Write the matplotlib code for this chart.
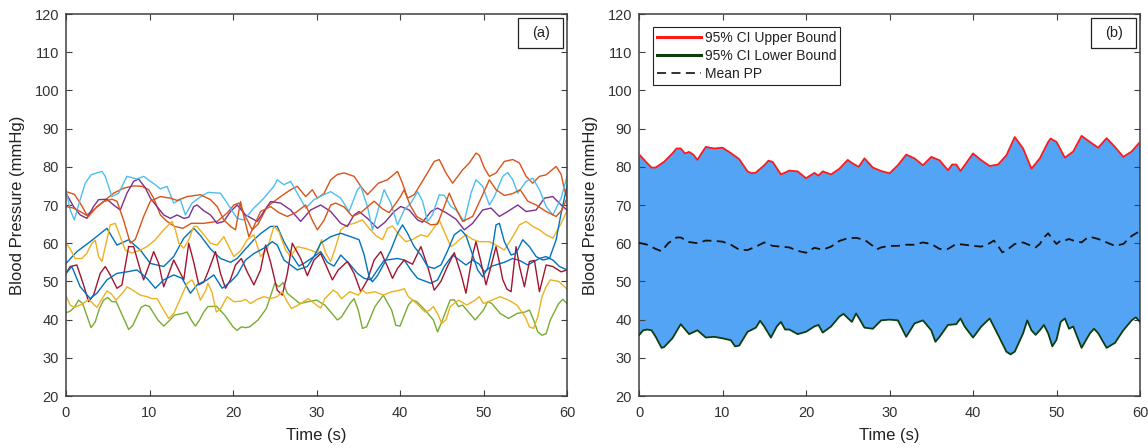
import numpy as np
import matplotlib
matplotlib.use("Agg")
import matplotlib.pyplot as plt
from matplotlib.patches import Rectangle
from matplotlib.lines import Line2D

plt.rcParams['font.family'] = ['Liberation Sans', 'DejaVu Sans']

# ---- Panel (a): individual pulse-pressure recordings, (time s, mmHg) ----
light_blue = [(0, 74.0), (0.5, 68.7), (1, 66.1), (1.5, 70), (2.3, 75.7), (3, 77.9), (3.7, 78.4), (4.3, 78.8),
              (4.7, 77.5), (5.5, 72.2), (6.3, 73.1), (7.3, 77.5), (8.5, 76.8), (9.3, 77.5), (10.1, 76.2),
              (10.7, 75.3), (11.3, 74.2), (12.1, 74.9), (12.9, 70.5), (13.7, 71.4), (14.3, 67.4), (15.1, 70.5),
              (16, 72), (17, 73.3), (18.5, 73.1), (19.3, 70.5), (20.5, 66.5), (21.3, 66.1), (22.5, 69.2),
              (23.7, 71.8), (24.9, 74.9), (25.3, 76.6), (26.1, 75.3), (26.9, 76.2), (27.7, 73.1), (28.7, 69.2),
              (29.7, 71.4), (30.9, 72.7), (31.7, 73.5), (32.9, 71.8), (33.9, 68.3), (34.9, 74), (35.3, 74.9),
              (36.1, 69.6), (36.7, 63.5), (37.5, 69.6), (38.1, 74.0), (38.9, 70.5), (39.7, 64.8), (40.5, 68.7),
              (41.3, 70.5), (42.1, 73.5), (42.7, 71), (43.3, 65.7), (43.9, 67.5), (44.7, 72.7), (45.3, 72.5),
              (46.1, 69.6), (46.7, 68.7), (47.7, 65.7), (48.5, 73.1), (49.1, 76.6), (49.9, 74.9), (50.7, 70),
              (51.3, 72.2), (52.3, 77.5), (52.9, 78.5), (53.5, 76.6), (54.1, 73.1), (55.1, 76.2), (55.9, 77),
              (56.7, 74), (57.5, 69.6), (58.3, 67.4), (59.3, 71.8), (60, 77.5)]

orange_1 = [(0, 73.5), (1, 72.8), (1.7, 70.5), (2.5, 67.4), (3.3, 68.7), (4.5, 70.9), (5.7, 73.1), (6.9, 74.4),
            (8.1, 75.0), (9.1, 74.9), (9.9, 74), (10.5, 71.8), (11.3, 67.4), (12.1, 65.7), (13, 64.4), (14, 63.9),
            (15, 65.2), (16.5, 65.2), (18.1, 65.7), (19.3, 67.9), (20.1, 70), (20.7, 70.5), (21.5, 67),
            (22.3, 63.5), (23, 65), (24.1, 69.6), (25.7, 72.2), (26.9, 74), (27.7, 74.9), (28.7, 72.2),
            (29.5, 74), (30.1, 71.8), (30.9, 73), (31.7, 76.6), (32.5, 78), (33.3, 78.4), (34.5, 77.5),
            (35.3, 74.9), (36.1, 72.7), (37.4, 75.7), (38.5, 76.6), (39.7, 78.8), (40.3, 75.7), (40.9, 71.8),
            (41.7, 72.7), (42.9, 77), (44.1, 81.4), (44.7, 81.9), (45.5, 78.4), (46.3, 75.7), (47.5, 79.2),
            (48.3, 81), (49.1, 83.6), (49.5, 83), (50.1, 79.7), (50.7, 77.5), (51.5, 78.4), (52.5, 81.4),
            (53.5, 81.9), (54.3, 81), (55.1, 77.5), (55.9, 75.7), (56.7, 77.5), (57.5, 77.9), (58.7, 80.1),
            (59.3, 78), (59.7, 74), (60, 72)]

orange_2 = [(0, 69.6), (0.9, 69.2), (1.7, 68.3), (2.7, 67), (3.7, 69.6), (4.5, 70.9), (5.5, 71.5), (6.1, 71),
            (6.9, 66), (7.7, 60), (8.3, 61), (9.3, 67), (10.1, 71), (11.3, 72.2), (12.5, 71.8), (13.3, 71.2),
            (14.5, 72.2), (16.1, 72.7), (17.3, 71.4), (18.1, 69.6), (18.9, 66.1), (19.7, 64.4), (20.3, 63.5),
            (20.9, 70.9), (21.3, 67), (21.9, 61.7), (22.5, 64.4), (23.3, 68.3), (24.5, 69.6), (25.5, 68),
            (26.5, 67), (27.5, 68), (28.7, 70), (29.5, 66), (30.1, 63.5), (30.9, 66), (31.7, 70), (32.3, 70.5),
            (33.3, 69.5), (34.3, 67), (35.3, 68), (36.9, 71), (37.9, 69), (38.7, 68), (40, 72), (40.5, 74),
            (41.2, 70), (42, 67), (43.7, 64.8), (44.5, 65), (45.9, 73.1), (46.5, 70), (47.5, 65.7), (48.7, 67),
            (49.9, 72.7), (50.7, 76.6), (51.5, 74), (52.5, 72.5), (53.5, 73), (54.4, 74), (55.3, 71),
            (56.3, 70), (57.5, 68.3), (58.7, 67), (59.4, 68.7), (60, 71.8)]

purple = [(0, 73.1), (0.9, 69.6), (1.7, 67.4), (2.5, 66.5), (3.3, 69.6), (3.9, 71.4), (4.9, 71.5), (5.7, 70),
          (6.5, 68.7), (7.3, 73.1), (8.1, 76.2), (8.7, 76.8), (9.5, 74.5), (10.1, 71.8), (10.9, 69.6),
          (11.7, 67.4), (12.5, 66.5), (13.3, 67.4), (14.1, 66.5), (14.7, 66.8), (15.3, 69.6), (15.7, 70),
          (16.5, 68.5), (17.3, 67.4), (18.1, 65.2), (18.9, 65.7), (19.7, 68.3), (20.5, 70), (21.5, 67.4),
          (22.9, 65.7), (24.5, 70.9), (25.7, 70.5), (26.9, 68.7), (28.1, 65.7), (29.3, 68.7), (30.5, 70),
          (31.7, 68.3), (32.9, 65.2), (33.7, 64.4), (34.5, 67.4), (35.1, 68.3), (36.1, 66.5), (37.3, 63.9),
          (38.2, 65.5), (39.3, 68.3), (40.1, 69.6), (41.1, 68.7), (42.1, 66.1), (42.7, 65.5), (43.7, 68.3),
          (44.5, 69.2), (45.5, 68), (46.7, 66.3), (47.7, 63.5), (48.7, 65.2), (49.9, 68.7), (50.9, 69.2),
          (51.9, 67), (52.9, 68.3), (54.1, 70), (55.1, 68.3), (56.3, 68.7), (57.3, 71.8), (58.3, 72.2),
          (59.3, 70), (60, 68.7)]

yellow_upper = [(0, 60), (0.5, 58.5), (1.1, 56), (1.9, 56), (2.5, 57.4), (3.1, 60), (3.5, 60.8), (3.9, 56.5),
                (4.3, 55.2), (4.9, 60.9), (5.3, 64.8), (5.9, 65.2), (6.5, 61.7), (7.1, 58.2), (7.9, 57.4),
                (8.9, 58.2), (9.7, 59.1), (10.7, 60.9), (11.5, 63), (12.1, 64.4), (12.7, 65.7), (13.1, 63.5),
                (13.5, 60), (14.1, 58.7), (14.7, 60.9), (15.3, 64.4), (15.7, 64.4), (16.7, 61.7), (17.3, 60),
                (18.1, 59.5), (18.9, 61.7), (19.7, 58.2), (20.1, 56.5), (20.9, 58), (21.7, 60.9), (22.5, 62.2),
                (23.3, 56.5), (24.1, 58.5), (24.9, 64.4), (25.5, 63), (26.3, 58.2), (26.9, 56.5), (27.7, 59.1),
                (28.5, 58.7), (29.3, 58.2), (30.1, 57.4), (30.6, 60.9), (31.1, 57.4), (31.7, 55.2), (32.3, 59.1),
                (32.9, 63.5), (33.7, 64.8), (34.5, 65.2), (35.5, 66.1), (36.3, 63.9), (37.1, 62), (37.9, 60.9),
                (38.5, 63.9), (39.1, 64.5), (39.9, 62.2), (40.7, 60.4), (41.5, 61), (42.5, 62.2), (43.3, 61.7),
                (43.9, 63.5), (44.7, 66.1), (45.5, 62), (46.1, 59.1), (46.7, 60), (47.1, 60.9), (47.9, 62.2),
                (48.7, 61), (49.5, 60.4), (50.7, 60.4), (51.5, 59.5), (52.5, 58.2), (53.5, 61.7), (54.3, 64.8),
                (55.1, 65.7), (55.9, 64.4), (56.7, 63.5), (57.5, 62.2), (58.3, 61.3), (59.3, 65.2), (60, 68.5)]

yellow_lower = [(0, 46.2), (0.5, 43.8), (1, 43.2), (2, 44.1), (2.7, 45.3), (3.7, 43.2), (4.9, 47.5), (5.4, 46.8),
                (6, 45.1), (6.9, 47.3), (7.3, 48.6), (8, 47.7), (8.9, 46.4), (9.7, 46.0), (10.3, 45.5),
                (10.9, 45.5), (11.7, 42.5), (12.3, 40.3), (12.9, 41.6), (13.7, 45.5), (14.5, 49.5), (15.1, 50.4),
                (15.7, 47.7), (16.1, 45.1), (16.7, 47.5), (17, 49.5), (17.5, 47), (18, 42.0), (18.5, 42.8),
                (19.3, 46.0), (20.1, 44.7), (20.9, 44.8), (21.5, 45.3), (22.1, 44.2), (22.9, 45.3), (23.7, 46.0),
                (24.5, 45.5), (25.3, 46.0), (25.9, 47.3), (26.4, 45), (27, 42.9), (28, 44), (29, 45.5),
                (30, 43.8), (30.5, 43), (31, 45.5), (32, 47.7), (32.5, 47), (33, 45.5), (34, 47.3), (35, 46.4),
                (35.5, 47.7), (36, 46.9), (37, 47.3), (38, 46.4), (39, 47.3), (40, 47.7), (40.5, 48.1), (41, 46.0),
                (42, 44.2), (43, 42.0), (43.5, 42.4), (44, 43.4), (44.5, 41.6), (45, 39.0), (45.5, 39.9),
                (46, 43.4), (47, 45.1), (48, 43.8), (49, 45.1), (49.5, 46), (50, 44.2), (51, 45.1), (52, 46.0),
                (53, 45.1), (54, 43.8), (55, 40.7), (55.5, 38.1), (56, 37.7), (56.5, 40.7), (57, 46), (57.5, 48.6),
                (58, 50.4), (59, 50), (60, 48)]

green = [(0, 41.8), (0.5, 42.2), (1, 43.2), (1.5, 45.1), (2, 44.2), (2.5, 41), (3, 37.9), (3.5, 39.4), (4, 42.9),
         (4.5, 45.1), (5, 45.8), (5.5, 44.7), (6, 44.7), (7, 39.9), (7.5, 37.4), (8, 38.5), (9, 43.2), (9.5, 43.8),
         (10, 43.4), (11, 39.9), (11.7, 38.3), (12.5, 40), (13, 41.2), (14, 41.6), (14.5, 42.0), (15, 39.9),
         (15.5, 38.3), (16, 39.9), (16.5, 42), (17, 43.4), (18, 43.5), (19, 41.2), (20, 38.1), (20.5, 37.2),
         (21, 38.1), (21.5, 37.9), (22, 38.1), (23, 39.9), (24, 42.9), (25, 49.5), (25.5, 48.6), (26, 49.7),
         (26.5, 46.9), (27, 46), (28, 44.2), (29, 44.7), (30, 45.1), (31, 43.8), (32, 41.2), (32.5, 39.9),
         (33, 40.7), (34, 44.2), (34.5, 45.5), (35, 42.5), (35.5, 37.7), (36, 38.1), (37, 43.4), (38, 46.4),
         (39, 42.5), (39.5, 38.5), (40, 38.3), (41, 43.8), (41.5, 45.1), (42, 44.7), (43, 42.5), (44, 39.9),
         (44.5, 36.8), (45, 39.4), (46, 45.1), (46.5, 45.2), (47, 43.4), (47.5, 43.8), (48, 42.5), (49, 39.9),
         (50, 42.5), (50.5, 44.7), (51, 44.2), (52, 41.6), (53, 40.3), (54, 41.6), (55, 42.0), (55.5, 42.5),
         (56, 39.9), (56.5, 36.8), (57, 35.9), (57.5, 36.3), (58, 39.9), (59, 44.2), (59.5, 45.3), (60, 44.2)]

blue_1 = [(0, 54.7), (1.3, 57.8), (2.9, 60.4), (4.9, 63.9), (6.1, 59.5), (7.5, 60.9), (8.9, 58.2), (10.1, 54.7),
          (11.7, 53.9), (12.9, 56.5), (14.1, 61.3), (15.3, 63.9), (16.1, 62), (17.3, 58.5), (18.5, 56),
          (19.7, 55), (20.5, 56), (21.3, 58), (22.5, 60.9), (23.3, 62.5), (24.5, 64.4), (25.3, 64.4),
          (26.1, 60.4), (26.9, 57.3), (27.9, 54), (28.7, 55), (29.7, 56.5), (30.5, 57.8), (31.3, 55), (32.1, 54),
          (32.9, 56.9), (33.9, 54.7), (34.9, 52.1), (35.7, 50.8), (36.5, 50.4), (37.3, 53), (38.1, 55.5),
          (39.7, 56), (40.5, 55.6), (41.3, 53), (42.1, 50.8), (43.7, 49.5), (44.5, 50.4), (45.3, 53.9),
          (46.3, 56.9), (47.1, 55.6), (47.9, 54.3), (48.7, 55.6), (49.5, 54.5), (50.1, 52.5), (51, 54),
          (52.5, 55), (53.5, 56), (54.3, 55.5), (55.3, 54.3), (56.7, 56), (57.5, 56.5), (58.3, 55.6),
          (59.1, 53.9), (60, 53)]

blue_2 = [(0, 52.1), (0.7, 53.9), (1.7, 48.6), (2.9, 45.5), (3.7, 46.9), (4.9, 50.4), (6.1, 52.1), (7.3, 52.5),
          (8.5, 53), (9.7, 50.8), (10.7, 48.2), (11.7, 50.4), (12.9, 51.7), (13.9, 50.8), (14.9, 46.9),
          (15.7, 49.1), (16.9, 50.4), (17.7, 51.7), (18.7, 48.2), (19.7, 49.9), (20.5, 51.7), (21.5, 55.6),
          (22.5, 57.3), (23.7, 58.7), (24.7, 60.4), (25.3, 59.5), (26.1, 55.6), (26.9, 54.3), (27.7, 53),
          (28.9, 53.9), (29.7, 56.5), (30.5, 60), (31.7, 61.7), (32.9, 62.6), (34.1, 61.7), (35.1, 60.9),
          (35.7, 57), (36.3, 51.2), (36.7, 49.9), (37.3, 51.5), (38.1, 54.7), (38.9, 58.2), (39.7, 62.6),
          (40.3, 64.8), (40.9, 62.6), (41.7, 59.1), (42.5, 56.9), (43.3, 53.9), (44.1, 53.4), (44.9, 54.3),
          (45.7, 58), (46.5, 62.2), (47.3, 63.5), (47.9, 62), (48.5, 58.2), (49.3, 53), (49.9, 51.2),
          (50.5, 53.5), (51.1, 59.1), (51.5, 64.8), (51.9, 65.2), (52.5, 60.4), (53.3, 56.9), (53.9, 57.4),
          (54.7, 60.9), (55.5, 59.1), (56.3, 56.5), (57.1, 55.6), (57.9, 56), (58.7, 60.9), (59.3, 67.9),
          (60, 75)]

dark_red = [(0, 52.1), (0.5, 53.9), (1.3, 54.3), (2.1, 49.1), (2.7, 44.7), (3.3, 46.4), (4.1, 52.1), (4.7, 53.9),
            (5.3, 51.7), (6.1, 48.2), (6.7, 49.1), (7.5, 59.1), (8.1, 59.1), (8.9, 53), (9.3, 50.4), (9.9, 54),
            (10.5, 57.8), (11.1, 54.7), (11.7, 48.6), (12.3, 52), (12.9, 55.6), (13.5, 53), (14.1, 50.4),
            (14.7, 60), (15.3, 55), (15.9, 49.1), (16.5, 49.8), (17.1, 53), (17.9, 57.8), (18.5, 52.1),
            (19.1, 48.2), (19.7, 50.5), (20.3, 54.3), (21, 56), (21.7, 52.5), (22.5, 49.1), (23.3, 53),
            (23.9, 59.5), (24.5, 55), (25.3, 47.7), (25.9, 46.4), (26.5, 52), (27.1, 60), (27.6, 58), (28.1, 56),
            (28.9, 51.5), (29.7, 55.6), (30.5, 57.3), (31.2, 53.9), (31.9, 50.4), (32.6, 53), (33.7, 55.2),
            (34.5, 52.1), (35.3, 47.3), (36.1, 50.4), (36.9, 55.6), (37.7, 57.8), (38.5, 53.9), (39.1, 50.8),
            (39.7, 53.4), (40.5, 55.6), (41.5, 54.5), (42.5, 59.1), (43.3, 54), (44.1, 47.7), (44.9, 50),
            (45.7, 54), (46.5, 57.5), (47.3, 52), (47.9, 46.9), (48.3, 52), (48.7, 57), (49.1, 60.4), (49.7, 55),
            (50.3, 49.1), (50.9, 54), (51.5, 59.1), (51.9, 55), (52.3, 50.5), (52.8, 48), (53.3, 47.3),
            (53.9, 59.1), (54.3, 54), (54.9, 48.6), (55.5, 55.2), (56.1, 55.5), (56.7, 47.3), (57.5, 54.3),
            (58.3, 53.9), (59.3, 52.5), (60, 53)]

# ---- Panel (b): confidence band and mean ----
ci_upper = [(0, 83.3), (1, 80.9), (1.5, 79.8), (2, 79.8), (3, 81.3), (4, 83.5), (4.5, 84.8), (5, 84.8),
            (5.5, 83.5), (6, 83.9), (6.5, 83.2), (7, 81.8), (7.5, 83.6), (8, 85.2), (9, 84.8), (10, 85.0),
            (11, 83.6), (12, 82.0), (13, 78.8), (13.5, 78.3), (14, 78.5), (15, 80.4), (15.5, 81.6), (16, 81.3),
            (17, 78.0), (18, 79.0), (19, 78.8), (20, 77.0), (21, 78.4), (21.5, 77.7), (22, 78.8), (23, 78.0),
            (24, 79.5), (25, 81.8), (25.5, 81.0), (26.3, 80.0), (27, 82.2), (28, 79.8), (29, 78.9), (30, 78.3),
            (31, 80.4), (32, 83.2), (33, 82.2), (34, 80.4), (35, 82.6), (36, 81.7), (37, 79.1), (37.5, 80.6),
            (38, 80.6), (38.5, 78.9), (39, 80.4), (40, 83.5), (41, 81.7), (42, 80.2), (43, 80.6), (44, 83.0),
            (45, 87.8), (46, 84.8), (47, 79.5), (48, 82.2), (49, 86.5), (49.3, 87.4), (50, 86.5), (51, 82.4),
            (52, 84.0), (53, 88.1), (54, 86.5), (55, 85.0), (56, 87.5), (57, 85.2), (58, 82.6), (59, 84.0),
            (60, 86.5)]

ci_lower = [(0, 35.9), (0.5, 37.2), (1, 37.4), (1.5, 37.2), (2, 35.5), (2.7, 32.6), (3, 32.8), (4, 35.1),
            (5, 38.8), (6, 36.2), (7, 37.2), (8, 35.3), (9, 35.5), (10, 35.1), (11, 34.6), (11.5, 33.0),
            (12, 33.2), (13, 36.8), (14, 37.9), (14.5, 39.7), (15, 38.2), (15.8, 35.3), (16.5, 38.2), (17, 39.4),
            (17.5, 37.4), (18, 37.4), (19, 36.2), (20, 36.8), (21, 38.2), (21.5, 38.6), (22, 36.6), (23, 38.2),
            (24, 40.8), (24.5, 41.5), (25, 40.4), (25.5, 39.4), (26, 41.6), (26.5, 39.8), (27, 37.9), (28, 37.6),
            (29, 39.8), (30, 40.0), (31, 39.8), (32, 35.5), (33, 39.0), (34, 39.8), (35, 37.2), (35.5, 34.2),
            (36, 35.5), (37, 38.6), (38, 38.8), (38.5, 40.3), (39, 38.2), (40, 35.3), (41, 38.2), (42, 40.3),
            (43, 36.0), (44, 31.6), (44.5, 30.9), (45, 31.6), (46, 36.4), (46.5, 39.8), (47, 37.2), (47.5, 36.0),
            (48, 37.2), (48.5, 38.6), (49, 36.4), (49.5, 33.0), (50, 34.7), (50.5, 39.4), (51, 40.3),
            (51.5, 37.6), (52, 38.2), (53, 32.6), (54, 36.4), (54.5, 37.6), (55, 36.4), (56, 32.6), (57, 33.9),
            (58, 37.2), (59, 39.8), (59.5, 40.6), (60, 39.4)]

mean_pp = [(0, 60.1), (1, 59.6), (2, 58.5), (2.7, 57.9), (3.5, 60.0), (4.5, 61.5), (5, 61.5), (6, 60.3),
           (7, 60.0), (8, 60.7), (9, 60.6), (10, 60.4), (11, 59.6), (12, 58.3), (13, 58.2), (14, 59.1),
           (15, 60.2), (16, 59.3), (17, 59.1), (18, 58.9), (19, 58.0), (20, 57.5), (21, 58.8), (22, 58.3),
           (23, 59.1), (24, 60.6), (25, 61.3), (26, 61.4), (27, 60.9), (28, 59.3), (28.5, 58.4), (29, 58.9),
           (30, 59.3), (31, 59.3), (32, 59.6), (33, 59.6), (34, 60.2), (35, 59.8), (36, 58.5), (37, 58.5),
           (38, 59.8), (39, 59.6), (40, 59.3), (41, 59.1), (42, 60.0), (42.5, 60.7), (43, 59.3), (43.5, 57.6),
           (44, 58.1), (45, 59.8), (46, 60.2), (47, 59.3), (47.5, 58.9), (48, 59.8), (48.5, 61.5), (49, 62.6),
           (49.5, 61.1), (50, 59.8), (50.5, 60.7), (51, 60.7), (51.5, 61.1), (52, 60.7), (53, 60.2),
           (53.5, 61.1), (54, 61.7), (55, 61.1), (56, 60.2), (57, 59.3), (58, 59.8), (59, 61.9), (60, 63.2)]

x_ticks = [0, 10, 20, 30, 40, 50, 60]
y_ticks = [20, 30, 40, 50, 60, 70, 80, 90, 100, 110, 120]

# MATLAB default line colour order
C_BLUE = (0.000, 0.447, 0.741)
C_ORANGE = (0.850, 0.325, 0.098)
C_YELLOW = (0.929, 0.694, 0.125)
C_PURPLE = (0.494, 0.184, 0.556)
C_GREEN = (0.466, 0.674, 0.188)
C_LBLUE = (0.301, 0.745, 0.933)
C_RED = (0.635, 0.078, 0.184)

panel_a = [
    (blue_1, C_BLUE), (orange_1, C_ORANGE), (yellow_upper, C_YELLOW), (purple, C_PURPLE),
    (green, C_GREEN), (light_blue, C_LBLUE), (dark_red, C_RED), (blue_2, C_BLUE),
    (orange_2, C_ORANGE), (yellow_lower, C_YELLOW),
]


def unpack(pairs):
    arr = np.asarray(pairs, dtype=float)
    return arr[:, 0], arr[:, 1]


AX_COLOR = '#404040'
TXT_COLOR = '#333333'

fig = plt.figure(figsize=(11.48, 4.48), dpi=100)
ax_a = fig.add_axes([66 / 1148, 52 / 448, 501 / 1148, 382 / 448])
ax_b = fig.add_axes([639 / 1148, 52 / 448, 501 / 1148, 382 / 448])


def style_axes(ax, tag):
    ax.set_xlim(0, 60)
    ax.set_ylim(20, 120)
    ax.set_xticks(x_ticks)
    ax.set_yticks(y_ticks)
    ax.tick_params(direction='in', length=4.5, width=0.8, color=AX_COLOR,
                   labelcolor=TXT_COLOR, labelsize=10.5, top=True, right=True)
    ax.tick_params(axis='x', pad=7)
    ax.tick_params(axis='y', pad=5)
    for sp in ax.spines.values():
        sp.set_color(AX_COLOR)
        sp.set_linewidth(1.1)
    ax.set_xlabel('Time (s)', fontsize=12, color='#222222', labelpad=6)
    ax.set_ylabel('Blood Pressure (mmHg)', fontsize=12, color='#222222', labelpad=7)
    ax.add_patch(Rectangle((0.903, 0.911), 0.089, 0.079, transform=ax.transAxes,
                           facecolor='white', edgecolor='#222222', linewidth=0.9, zorder=5))
    ax.text(0.9475, 0.951, tag, transform=ax.transAxes, ha='center', va='center',
            fontsize=10.5, color='#222222', zorder=6)


# Panel (a)
for pairs, col in panel_a:
    t, v = unpack(pairs)
    ax_a.plot(t, v, color=col, lw=1.0, solid_joinstyle='round')
style_axes(ax_a, '(a)')

# Panel (b)
tu, vu = unpack(ci_upper)
tl, vl = unpack(ci_lower)
tm, vm = unpack(mean_pp)
ax_b.fill(np.concatenate([tu, tl[::-1]]), np.concatenate([vu, vl[::-1]]),
          color='#54a4f6', linewidth=0, zorder=1)
ax_b.plot(tu, vu, color='#ff1a1a', lw=1.3, zorder=3, solid_joinstyle='round')
ax_b.plot(tl, vl, color='#0d3d0d', lw=1.3, zorder=3, solid_joinstyle='round')
ax_b.plot(tm, vm, color='#111111', lw=1.3, dashes=(5, 3), zorder=3)
style_axes(ax_b, '(b)')

handles = [Line2D([], [], color='#ff1a1a', lw=2.2),
           Line2D([], [], color='#0d3d0d', lw=2.2),
           Line2D([], [], color='#222222', lw=1.3, dashes=(5, 3))]
leg = ax_b.legend(handles, ['95% CI Upper Bound', '95% CI Lower Bound', 'Mean PP'],
                  loc='upper left', bbox_to_anchor=(0.027, 0.967), fontsize=10,
                  handlelength=3.2, handletextpad=0.25, labelspacing=0.3,
                  borderpad=0.3, borderaxespad=0, fancybox=False, framealpha=1)
leg.get_frame().set_edgecolor('#222222')
leg.get_frame().set_linewidth(0.8)
for txt in leg.get_texts():
    txt.set_color('#222222')

fig.savefig('out.png', dpi=100)
